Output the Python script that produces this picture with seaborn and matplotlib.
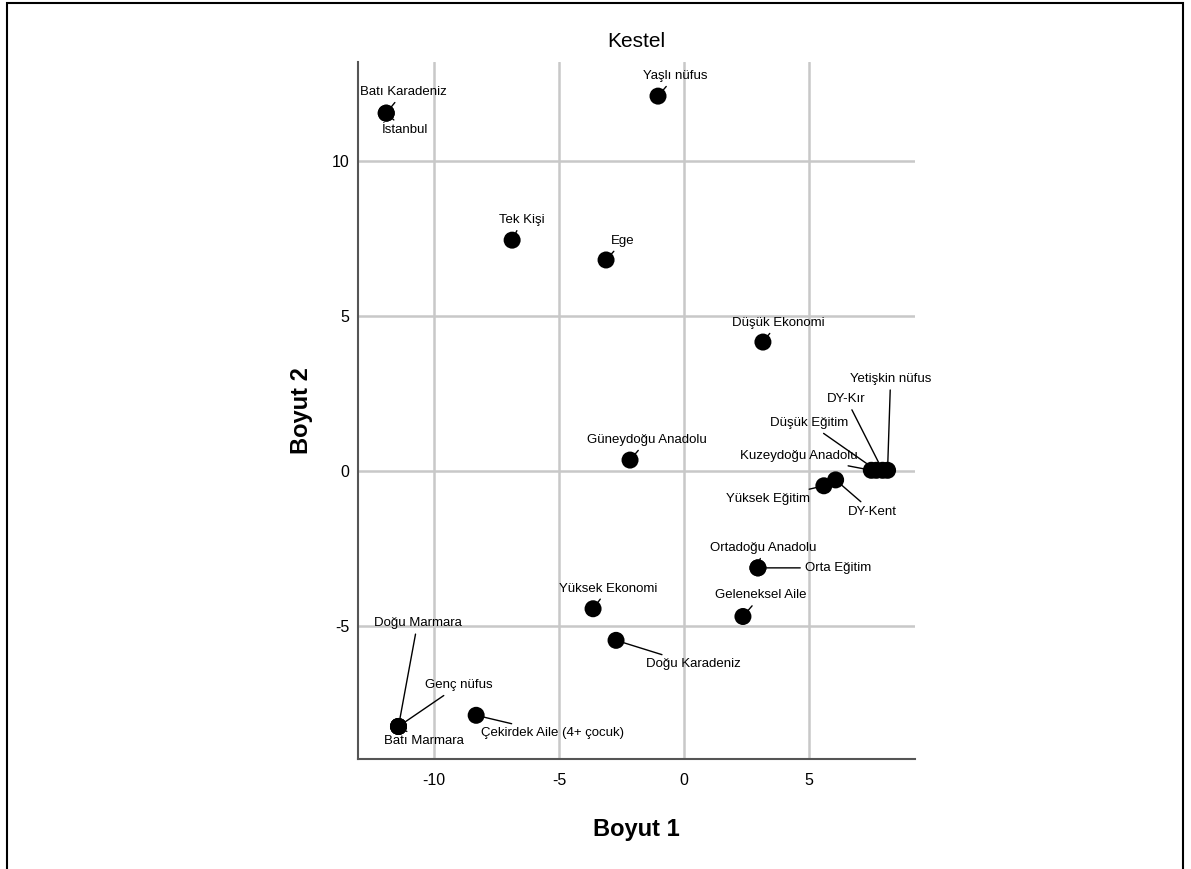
import pandas as pd
import seaborn as sns
import matplotlib.pyplot as plt
from matplotlib.patches import Rectangle

# --- DATEN ---
etiketler = [
    "Batı Karadeniz", "İstanbul", "Yaşlı nüfus", "Tek Kişi", "Ege",
    "Düşük Ekonomi", "Güneydoğu Anadolu", "Kuzeydoğu Anadolu", "Düşük Eğitim",
    "DY-Kır", "Yetişkin nüfus", "Yüksek Eğitim", "DY-Kent", "Ortadoğu Anadolu",
    "Orta Eğitim", "Geleneksel Aile", "Yüksek Ekonomi", "Doğu Karadeniz",
    "Çekirdek Aile (4+ çocuk)", "Genç nüfus", "Doğu Marmara", "Batı Marmara",
]
boyut1 = [-11.92, -11.92, -1.04, -6.88, -3.12, 3.16, -2.16, 7.50, 7.70,
          7.95, 8.15, 5.60, 6.07, 2.96, 2.96, 2.36, -3.64, -2.72,
          -8.32, -11.43, -11.43, -11.43]
boyut2 = [11.55, 11.55, 12.10, 7.45, 6.81, 4.16, 0.35, 0.02, 0.02,
          0.02, 0.02, -0.48, -0.29, -3.13, -3.13, -4.70, -4.45, -5.47,
          -7.89, -8.25, -8.25, -8.25]

# Etiket-Versatz in Pixeln (dx, dy, ha)
versatz = {
    "Batı Karadeniz": (17, 21, "center"),
    "İstanbul": (19, -17, "center"),
    "Yaşlı nüfus": (17, 20, "center"),
    "Tek Kişi": (10, 20, "center"),
    "Ege": (17, 19, "center"),
    "Düşük Ekonomi": (15, 19, "center"),
    "Güneydoğu Anadolu": (17, 20, "center"),
    "Kuzeydoğu Anadolu": (-14, 14, "right"),
    "Düşük Eğitim": (-28, 47, "right"),
    "DY-Kır": (-36, 71, "center"),
    "Yetişkin nüfus": (3, 91, "center"),
    "Yüksek Eğitim": (-14, -13, "right"),
    "DY-Kent": (37, -32, "center"),
    "Ortadoğu Anadolu": (5, 20, "center"),
    "Orta Eğitim": (47, 0, "left"),
    "Geleneksel Aile": (18, 21, "center"),
    "Yüksek Ekonomi": (15, 20, "center"),
    "Doğu Karadeniz": (77, -24, "center"),
    "Çekirdek Aile (4+ çocuk)": (76, -18, "center"),
    "Genç nüfus": (60, 41, "center"),
    "Doğu Marmara": (19, 103, "center"),
    "Batı Marmara": (25, -15, "center"),
}

df = pd.DataFrame({"Etiket": etiketler, "Boyut 1": boyut1, "Boyut 2": boyut2})

sns.set_theme(style="white")
plt.rcParams['font.family'] = ['Liberation Sans Narrow', 'Liberation Sans', 'DejaVu Sans']
plt.rcParams['axes.unicode_minus'] = False
plt.rcParams['text.color'] = 'black'

fig = plt.figure(figsize=(11.91, 8.69), dpi=100)
ax = fig.add_axes([0.3006, 0.1266, 0.4677, 0.802])

sns.scatterplot(data=df, x="Boyut 1", y="Boyut 2", color="black", s=150,
                edgecolor="none", ax=ax, zorder=3)

for _, r in df.iterrows():
    dx, dy, ha = versatz[r["Etiket"]]
    ax.annotate(r["Etiket"], xy=(r["Boyut 1"], r["Boyut 2"]),
                xytext=(dx, dy), textcoords="offset pixels",
                ha=ha, va="center", fontsize=9.5, color="black", zorder=4,
                arrowprops=dict(arrowstyle="-", color="black", lw=1.0,
                                shrinkA=1, shrinkB=3))

ax.set_xlim(-13.05, 9.25)
ax.set_ylim(-9.3, 13.2)
ax.set_xticks([-10, -5, 0, 5])
ax.set_yticks([-5, 0, 5, 10])
ax.grid(True, color="#c8c8c8", linewidth=1.8)
ax.set_axisbelow(True)
for s in ["top", "right"]:
    ax.spines[s].set_visible(False)
for s in ["left", "bottom"]:
    ax.spines[s].set_color("#555555")
    ax.spines[s].set_linewidth(1.5)
ax.tick_params(axis="x", length=0, labelsize=11.5, pad=10, colors="black")
ax.tick_params(axis="y", length=0, labelsize=11.5, pad=6, colors="black")

ax.set_title("Kestel", fontsize=15, pad=11, color="black")
ax.set_xlabel("Boyut 1", fontsize=17, fontweight="bold", labelpad=22, color="black",
              family=['Liberation Sans', 'DejaVu Sans'])
ax.set_ylabel("Boyut 2", fontsize=17, fontweight="bold", color="black",
              family=['Liberation Sans', 'DejaVu Sans'])
ax.yaxis.set_label_coords(-0.081, 0.5)

# Rahmen um die Grafik
fig.patches.append(Rectangle((0.006, -0.01), 0.987, 1.006, transform=fig.transFigure,
                             fill=False, edgecolor="black", linewidth=1.5))

plt.savefig("out.png", dpi=100)
